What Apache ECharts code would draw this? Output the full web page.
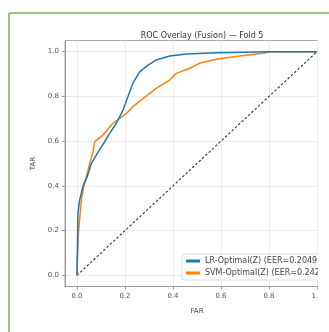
<!DOCTYPE html>
<html><head><meta charset="utf-8">
<script src="https://cdn.jsdelivr.net/npm/echarts@6/dist/echarts.min.js"></script>
<style>html,body{margin:0;padding:0;background:#fff}#c{width:329px;height:332px}</style>
</head><body><div id="c"></div>
<script>
const titleText = 'ROC Overlay (Fusion) — Fold 5';
const xTicks = [0, 0.2, 0.4, 0.6, 0.8, 1.0];
const yTicks = [0, 0.2, 0.4, 0.6, 0.8, 1.0];
const lrName = 'LR-Optimal(Z) (EER=0.2049)';
const svmName = 'SVM-Optimal(Z) (EER=0.2424)';
const lrFar = [0, 0.002, 0.004, 0.011, 0.018, 0.025, 0.042, 0.06, 0.081, 0.108, 0.136, 0.164, 0.192, 0.2125, 0.233, 0.261, 0.296, 0.33, 0.386, 0.456, 0.58, 0.7, 0.8, 1.0];
const lrTar = [0, 0.15, 0.277, 0.337, 0.367, 0.40, 0.44, 0.50, 0.54, 0.585, 0.635, 0.68, 0.74, 0.80, 0.859, 0.91, 0.94, 0.963, 0.981, 0.99, 0.995, 0.998, 1.0, 1.0];
const svmFar = [0, 0.003, 0.006, 0.018, 0.029, 0.036, 0.053, 0.067, 0.074, 0.081, 0.108, 0.15, 0.178, 0.206, 0.233, 0.275, 0.33, 0.386, 0.414, 0.47, 0.51, 0.58, 0.678, 0.775, 0.8, 1.0];
const svmTar = [0, 0.1, 0.188, 0.337, 0.40, 0.426, 0.50, 0.553, 0.598, 0.605, 0.627, 0.68, 0.702, 0.724, 0.754, 0.79, 0.836, 0.873, 0.903, 0.926, 0.948, 0.966, 0.981, 0.993, 1.0, 1.0];
const diagFar = [0, 1];
const diagTar = [0, 1];

const zip = (a, b) => a.map((v, i) => [v, b[i]]);
const chart = echarts.init(document.getElementById('c'));
const font = 'DejaVu Sans';
chart.setOption({
  animation: false,
  backgroundColor: '#fff',
  title: { text: titleText, left: 197, top: 27, textAlign: 'center',
    textStyle: { fontSize: 8, fontWeight: 'normal', color: '#333', fontFamily: font } },
  grid: { left: 65, top: 40.5, width: 264, height: 246, containLabel: false, show: true, borderColor: '#aaa', borderWidth: 1 },
  xAxis: { type: 'value', min: -0.05, max: 1.05, name: 'FAR', nameLocation: 'middle', nameGap: 21,
    nameTextStyle: { fontSize: 7, color: '#444', fontFamily: font },
    axisLine: { onZero: false, lineStyle: { color: '#999', width: 1 } },
    axisTick: { show: true, length: 3, lineStyle: { color: '#999' }, customValues: xTicks },
    axisLabel: { fontSize: 7, color: '#555', fontFamily: font, margin: 6, customValues: xTicks,
      formatter: v => v.toFixed(1) },
    splitLine: { show: true, lineStyle: { color: '#ececec', width: 1 } , customValues: xTicks},
    interval: 0.2 },
  yAxis: { type: 'value', min: -0.05, max: 1.05, name: 'TAR', nameLocation: 'middle', nameGap: 25,
    nameTextStyle: { fontSize: 7, color: '#444', fontFamily: font },
    axisLine: { show: true, onZero: false, lineStyle: { color: '#999', width: 1 } },
    axisTick: { show: true, length: 3, lineStyle: { color: '#999' }, customValues: yTicks },
    axisLabel: { fontSize: 7, color: '#555', fontFamily: font, margin: 6, customValues: yTicks,
      formatter: v => v.toFixed(1) },
    splitLine: { show: true, lineStyle: { color: '#ececec', width: 1 }, customValues: yTicks },
    interval: 0.2 },
  legend: { left: 182, top: 254, orient: 'vertical', itemGap: 4, itemWidth: 14, itemHeight: 3,
    icon: 'rect', padding: [3, 4, 3, 4], backgroundColor: '#fff', borderColor: '#ddd', borderWidth: 1, borderRadius: 2,
    textStyle: { fontSize: 8, color: '#444', fontFamily: font }, data: [lrName, svmName] },
  series: [
    { name: 'diag', type: 'line', data: zip(diagFar, diagTar), showSymbol: false, silent: true,
      lineStyle: { color: '#333', width: 1.1, type: [2.5, 2] }, z: 1 },
    { name: lrName, type: 'line', data: zip(lrFar, lrTar), showSymbol: false, color: '#1f77b4',
      lineStyle: { width: 1.5 }, z: 3 },
    { name: svmName, type: 'line', data: zip(svmFar, svmTar), showSymbol: false, color: '#ff7f0e',
      lineStyle: { width: 1.5 }, z: 2 }
  ],
  graphic: [
    { type: 'rect', shape: { x: 318, y: 14, width: 12, height: 320 }, style: { fill: '#fff' }, z: 100 },
    { type: 'line', shape: { x1: 9, y1: 13, x2: 329, y2: 13 }, style: { stroke: '#74b44a', lineWidth: 1.5 }, z: 101 },
    { type: 'line', shape: { x1: 9, y1: 13, x2: 9, y2: 332 }, style: { stroke: '#74b44a', lineWidth: 1.5 }, z: 101 }
  ]
});
</script></body></html>
